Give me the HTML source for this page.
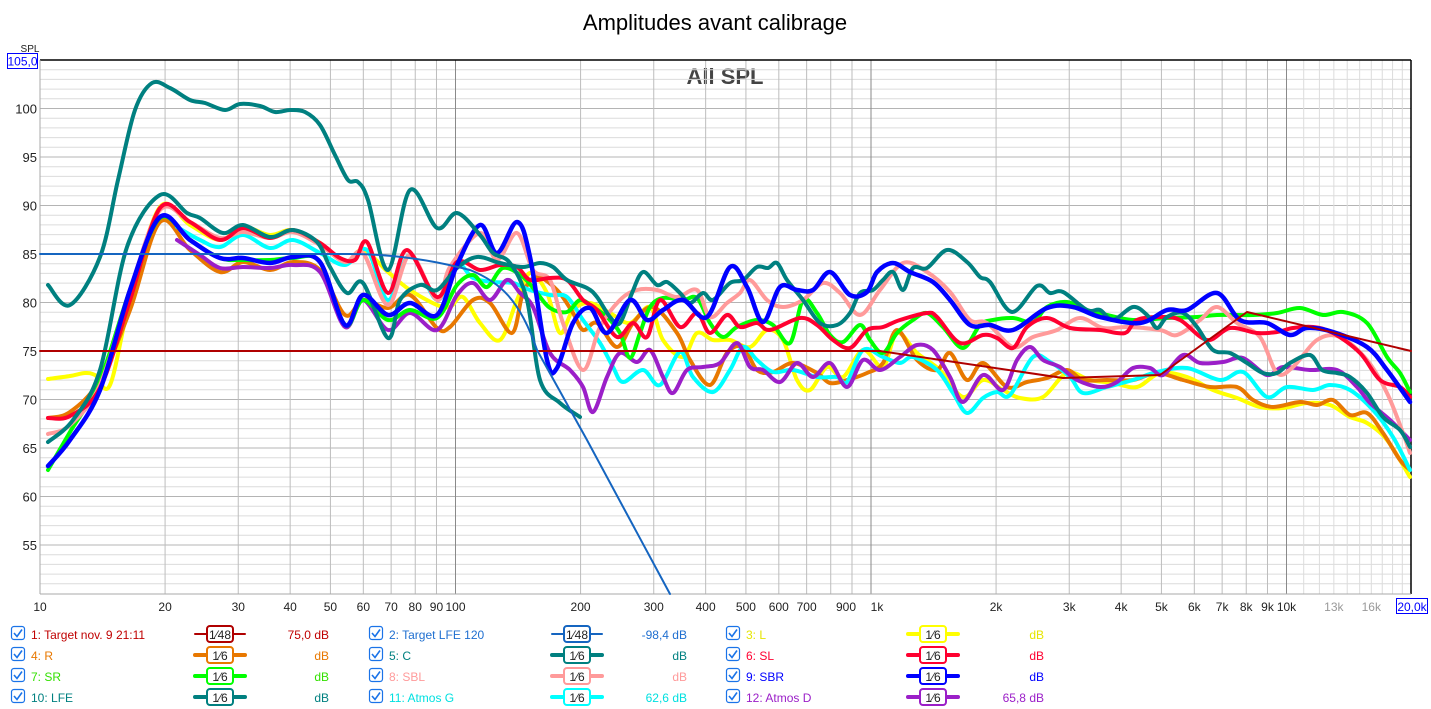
<!DOCTYPE html>
<html><head><meta charset="utf-8"><style>
body{margin:0;background:#fff;width:1431px;height:709px;overflow:hidden;font-family:"Liberation Sans",sans-serif}
svg{position:absolute;left:0;top:0}
</style></head><body>
<svg id="s" width="1431" height="709" xmlns="http://www.w3.org/2000/svg" font-family="Liberation Sans, sans-serif">
<text x="715" y="30" font-size="22" text-anchor="middle" fill="#000">Amplitudes avant calibrage</text>
<text x="725" y="84" font-size="22" font-weight="bold" text-anchor="middle" fill="#444">All SPL</text>
<g id="grid"></g>
<g id="curves" fill="none" stroke-linejoin="round" stroke-linecap="round"></g>
<g id="leg"></g>
</svg>
<script>
var NS="http://www.w3.org/2000/svg",s=document.getElementById('s');
function el(p,t,a,txt){var e=document.createElementNS(NS,t);for(var k in a)e.setAttribute(k,a[k]);if(txt!=null)e.textContent=txt;p.appendChild(e);return e;}
var g=document.getElementById('grid');
var L=40,R=1411,T=60,B=594;
function X(f){return L+415.5*Math.log10(f/10);}
function Y(d){return T+(105-d)*9.7;}
for(var d=51;d<=104;d++){var y=Y(d);el(g,'line',{x1:L,x2:R,y1:y,y2:y,stroke:d%5==0?'#b4b4b4':'#dcdcdc','stroke-width':1});}
for(var d=55;d<=100;d+=5){el(g,'text',{x:37,y:Y(d)+5,'font-size':13,'text-anchor':'end',fill:'#222'},String(d));}
var labs={10:'10',20:'20',30:'30',40:'40',50:'50',60:'60',70:'70',80:'80',90:'90',100:'100',200:'200',300:'300',400:'400',500:'500',600:'600',700:'700',900:'900',1000:'1k',2000:'2k',3000:'3k',4000:'4k',5000:'5k',6000:'6k',7000:'7k',8000:'8k',9000:'9k',10000:'10k'};
[10,100,1000].forEach(function(dec){for(var n=1;n<=9;n++){var f=n*dec,x=X(f);el(g,'line',{x1:x,x2:x,y1:T,y2:B,stroke:n==1?'#8a8a8a':'#bdbdbd','stroke-width':1});}});
for(var f=11000;f<20000;f+=1000){var x=X(f);el(g,'line',{x1:x,x2:x,y1:T,y2:B,stroke:'#dcdcdc','stroke-width':1});}
el(g,'line',{x1:X(10000),x2:X(10000),y1:T,y2:B,stroke:'#8a8a8a'});
for(var k in labs){var x=X(+k);var t=labs[k];var xx=x;if(k==900)xx=x-6;if(k==1000)xx=x+6;el(g,'text',{x:xx,y:611,'font-size':12,'text-anchor':'middle',fill:'#222'},t);}
el(g,'text',{x:X(13000),y:611,'font-size':12,'text-anchor':'middle',fill:'#999'},'13k');
el(g,'text',{x:X(16000),y:611,'font-size':12,'text-anchor':'middle',fill:'#999'},'16k');
el(g,'line',{x1:L,x2:R,y1:T,y2:T,stroke:'#000','stroke-width':1.5});
el(g,'line',{x1:R,x2:R,y1:T,y2:B,stroke:'#000','stroke-width':1.5});
el(g,'line',{x1:L,x2:R,y1:B,y2:B,stroke:'#aaa'});
el(g,'line',{x1:L,x2:L,y1:T,y2:B,stroke:'#aaa'});
el(g,'text',{x:30,y:52,'font-size':10,'text-anchor':'middle',fill:'#222'},'SPL');
el(g,'rect',{x:7.5,y:53.5,width:30,height:15,fill:'#fff',stroke:'#00f'});
el(g,'text',{x:22.5,y:65.5,'font-size':12,'text-anchor':'middle',fill:'#00f'},'105,0');
el(g,'rect',{x:1396.5,y:598.5,width:31,height:15,fill:'#fff',stroke:'#00f'});
el(g,'text',{x:1412,y:611,'font-size':12,'text-anchor':'middle',fill:'#00f'},'20,0k');

function P(a){var p=[];for(var i=0;i<a.length;i+=2)p.push([a[i],a[i+1]]);var d='M'+p[0][0]+','+p[0][1];
for(var i=0;i<p.length-1;i++){var p0=p[i-1]||p[i],p1=p[i],p2=p[i+1],p3=p[i+2]||p2;
d+=' C'+(p1[0]+(p2[0]-p0[0])/6).toFixed(1)+','+(p1[1]+(p2[1]-p0[1])/6).toFixed(1)+' '+(p2[0]-(p3[0]-p1[0])/6).toFixed(1)+','+(p2[1]-(p3[1]-p1[1])/6).toFixed(1)+' '+p2[0]+','+p2[1];}return d;}
var C=document.getElementById('curves');
function add(col,w,a){el(C,'path',{d:P(a),stroke:col,'stroke-width':w});}
add('#ffff00',4,[48,379,70,376,85,373,95,375,110,385,130,300,160,207,190,225,220,240,243,227,270,235,293,230,320,243,345,262,363,250,388,272,410,290,437,305,450,307,463,297,480,323,500,340,517,300,530,273,547,293,560,333,573,310,590,303,610,313,630,323,650,307,663,340,683,357,697,333,713,340,730,340,750,347,767,330,783,340,797,380,810,390,827,367,843,377,863,350,883,367,897,333,917,353,940,370,963,397,983,380,1003,390,1020,398,1043,397,1067,373,1090,380,1113,383,1137,387,1160,373,1187,377,1213,390,1237,398,1260,407,1283,408,1307,403,1330,405,1350,417,1367,423,1387,440,1410,477]);
add('#e87800',4,[48,418,70,412,100,380,130,310,160,222,190,250,220,272,243,262,270,270,293,262,320,270,345,315,363,300,388,308,410,295,437,328,450,327,473,300,490,303,512,333,523,293,537,277,557,290,573,313,583,330,597,323,617,347,633,323,653,307,677,333,690,360,710,385,727,353,743,347,757,370,773,372,793,363,817,373,830,383,847,380,867,373,883,363,897,330,917,360,937,370,950,353,967,380,983,363,1007,387,1027,382,1047,378,1067,370,1083,380,1107,380,1133,380,1157,373,1183,380,1210,387,1237,387,1253,400,1273,407,1300,402,1317,405,1333,400,1350,415,1367,413,1383,433,1400,460,1410,470]);
add('#00ffff',4,[177,227,200,240,220,247,243,235,270,248,293,240,320,253,345,265,367,250,388,300,410,255,437,300,457,265,473,278,493,282,513,283,530,290,550,295,567,297,583,320,600,343,613,367,623,382,643,370,660,385,680,352,693,377,713,392,730,370,743,347,757,360,773,372,793,370,817,377,837,377,847,382,863,350,883,357,900,363,913,357,937,370,953,393,967,413,983,398,997,392,1010,395,1033,357,1050,362,1070,377,1083,393,1107,387,1133,380,1157,372,1187,368,1220,380,1243,372,1267,397,1287,387,1313,390,1330,385,1350,390,1373,410,1393,437,1410,470]);
add('#9b1fc8',4,[177,240,200,255,220,268,243,267,270,268,293,265,320,272,345,327,363,300,388,330,410,313,437,330,457,295,473,283,490,300,507,280,520,293,533,307,550,353,570,370,583,387,593,412,607,377,620,353,637,362,650,350,663,377,673,393,687,370,703,367,720,363,737,343,750,367,763,370,780,382,797,363,813,377,830,363,847,387,863,360,880,370,900,357,917,345,933,350,950,377,963,402,983,375,1003,390,1017,360,1030,347,1043,360,1060,367,1077,380,1100,387,1117,382,1133,368,1150,368,1163,375,1183,355,1200,363,1223,362,1243,358,1267,375,1283,367,1310,370,1337,370,1357,387,1370,403,1390,420,1410,440]);
add('#00ff00',4,[48,470,70,432,100,380,130,290,160,218,190,240,220,258,243,260,270,260,293,258,320,262,345,325,363,300,388,320,410,310,437,318,457,285,473,275,487,287,503,268,523,277,537,293,550,308,567,312,580,300,593,307,607,317,620,333,630,358,640,333,650,307,663,298,683,300,697,298,710,323,723,337,737,327,757,320,773,325,790,343,803,300,817,313,830,335,843,342,860,325,870,340,883,353,897,333,913,320,927,313,943,327,963,348,980,325,993,320,1013,318,1033,322,1047,307,1067,302,1087,310,1107,315,1133,320,1167,318,1197,317,1217,315,1253,315,1277,313,1300,308,1323,315,1343,312,1367,323,1387,357,1400,373,1410,392]);
add('#ff9a9a',4,[48,434,70,425,100,385,130,290,160,210,190,222,220,238,243,232,270,238,293,232,320,245,345,262,363,253,388,305,410,255,437,300,450,267,480,233,497,260,517,233,533,270,550,280,563,323,583,370,600,327,620,300,637,290,657,290,677,297,697,290,710,317,727,303,740,293,750,280,767,300,783,307,803,300,823,283,840,293,860,315,880,290,903,263,927,272,950,292,970,320,987,323,1013,347,1033,337,1057,330,1080,318,1103,328,1127,327,1160,330,1177,335,1200,320,1217,307,1237,323,1260,337,1277,373,1293,367,1317,340,1340,337,1367,360,1387,393,1403,433,1410,453]);
add('#ff0030',4,[48,418,70,416,100,388,130,300,160,208,190,222,220,240,243,228,270,238,293,230,320,243,340,258,355,260,367,242,388,293,407,250,437,297,457,262,480,270,500,265,517,267,530,280,550,278,567,280,583,300,597,310,617,337,633,323,647,337,660,300,680,327,697,313,710,333,727,315,740,327,757,323,770,330,800,318,817,325,833,340,850,348,867,330,883,327,900,320,927,313,937,317,960,343,983,335,997,338,1013,348,1027,327,1047,318,1070,328,1100,330,1117,333,1127,332,1137,320,1160,317,1180,320,1207,340,1230,328,1257,333,1277,332,1293,328,1313,327,1333,333,1360,353,1380,380,1400,387,1410,397]);
add('#008080',4,[48,442,73,420,100,370,127,247,160,195,187,213,200,218,223,233,243,225,270,237,293,230,317,242,330,267,347,293,363,283,388,338,400,300,420,285,437,290,457,268,477,257,500,263,523,267,540,263,553,267,567,280,587,288,597,297,610,317,620,323,632,293,643,272,657,285,667,282,680,293,690,303,703,293,713,300,730,283,743,280,757,267,768,268,777,263,787,280,803,300,820,323,837,325,850,313,860,293,873,290,883,280,893,272,903,290,913,268,927,268,947,250,967,262,980,277,990,282,1012,312,1037,286,1050,293,1063,292,1087,310,1100,310,1113,320,1133,307,1147,315,1157,328,1167,317,1183,313,1197,327,1213,350,1230,353,1247,363,1263,373,1277,373,1290,363,1310,355,1322,370,1337,373,1350,377,1367,393,1383,417,1400,430,1410,447]);
add('#0000ff',4.5,[48,466,70,440,100,390,130,290,160,217,190,240,220,258,243,258,270,263,293,257,320,262,345,325,363,295,388,315,410,303,437,315,457,265,480,225,497,253,517,222,530,257,547,360,557,368,573,323,590,308,607,333,630,300,647,320,663,310,683,300,707,317,730,267,747,287,763,322,780,287,797,290,813,290,830,272,850,295,867,292,877,272,893,263,910,272,933,282,950,300,970,325,990,325,1013,330,1047,308,1073,307,1100,317,1140,323,1167,310,1187,310,1217,293,1240,320,1267,323,1290,335,1307,328,1333,332,1367,347,1387,370,1410,402]);
add('#008080',4,[48,285,70,305,100,257,118,180,135,110,152,83,170,88,190,100,205,103,225,110,240,104,260,106,275,112,290,110,305,112,320,125,335,155,348,180,358,182,368,200,388,270,410,190,437,228,457,213,480,235,493,253,510,263,527,300,540,380,560,403,580,417]);
add('#b00000',2,[40,351,880,351]);
el(C,'path',{d:'M880,351 L1063,378 L1160,375 L1247,312 L1411,351',stroke:'#b00000','stroke-width':2});
el(C,'path',{d:'M40,254 L350,254 C400,254 440,262 470,270 C500,282 520,300 537,350 L587,440 L670,594',stroke:'#1565c0','stroke-width':2});

var lg=document.getElementById('leg');
var items=[
['1: Target nov. 9 21:11','#c00000','#b00000','48','75,0 dB',2],
['2: Target LFE 120','#1f6fd0','#1565c0','48','-98,4 dB',2],
['3: L','#e6e600','#ffff00','6','dB',4],
['4: R','#e87800','#e87800','6','dB',4],
['5: C','#008080','#008080','6','dB',4],
['6: SL','#ff0030','#ff0030','6','dB',4],
['7: SR','#33e000','#00ff00','6','dB',4],
['8: SBL','#ff9a9a','#ff9a9a','6','dB',4],
['9: SBR','#0000ff','#0000ff','6','dB',4],
['10: LFE','#008080','#008080','6','dB',4],
['11: Atmos G','#00e0e0','#00ffff','6','62,6 dB',4],
['12: Atmos D','#9b1fc8','#9b1fc8','6','65,8 dB',4]];
var cols=[[11,195,329],[369,552,687],[726,908,1044]];
items.forEach(function(it,i){var c=cols[i%3],y=634+Math.floor(i/3)*21;
el(lg,'rect',{x:c[0]+0.5,y:y-7.5,width:13,height:13,rx:2.5,fill:'#fff',stroke:'#1a73e8','stroke-width':1.2});
el(lg,'path',{d:'M'+(c[0]+3)+','+(y-1)+' l3,3.5 l5,-7',fill:'none',stroke:'#1a73e8','stroke-width':1.6});
el(lg,'text',{x:c[0]+20,y:y+5,'font-size':12,fill:it[1]},it[0]);
el(lg,'line',{x1:c[1],x2:c[1]+50,y1:y,y2:y,stroke:it[2],'stroke-width':it[5],'stroke-linecap':'round'});
el(lg,'rect',{x:c[1]+12,y:y-8,width:26,height:16,rx:3,fill:'#fff',stroke:it[2],'stroke-width':2});
el(lg,'text',{x:c[1]+25,y:y+5,'font-size':12,'text-anchor':'middle',fill:'#222'},'1⁄'+it[3]);
el(lg,'text',{x:c[2],y:y+5,'font-size':12,'text-anchor':'end',fill:it[1]},it[4]);});
</script>
</body></html>
